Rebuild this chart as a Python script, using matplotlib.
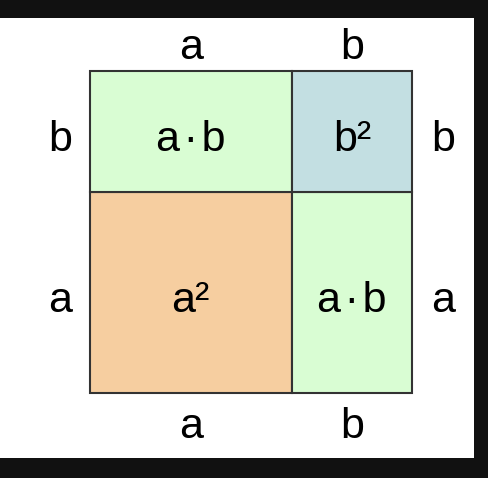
import matplotlib
matplotlib.use("Agg")
import matplotlib.pyplot as plt
from matplotlib.patches import Rectangle

# lados del cuadrado (a+b)^2
a = 5
b = 3

# celdas: x, y, ancho, alto, texto, color
celdas_x = [0, a, 0, a]
celdas_y = [0, 0, a, a]
celdas_w = [a, b, a, b]
celdas_h = [a, a, b, b]
celdas_txt = ["a²", "a\u200a·\u200ab", "a\u200a·\u200ab", "b²"]
celdas_col = ["#f6cea0", "#d9fdd3", "#d9fdd3", "#c3dfe2"]

# etiquetas de los lados
lados_h = ["a", "b"]
lados_v = ["a", "b"]

plt.rcParams["font.family"] = ["Liberation Sans", "DejaVu Sans"]

fig = plt.figure(figsize=(4.88, 4.78), dpi=100)
fig.patch.set_facecolor("#111111")
# zona blanca
fig.patches.append(Rectangle((0, 20 / 478), 474 / 488, 440 / 478,
                             transform=fig.transFigure, facecolor="white",
                             edgecolor="none", zorder=-10))

ax = fig.add_axes([0, 0, 1, 1])
ax.set_facecolor("none")
s = 40.3
ax.set_xlim(-90 / s, (488 - 90) / s)
ax.set_ylim(-(478 - 393) / s, 393 / s)
ax.axis("off")

for x, y, w, h, t, c in zip(celdas_x, celdas_y, celdas_w, celdas_h, celdas_txt, celdas_col):
    ax.add_patch(Rectangle((x, y), w, h, facecolor=c, edgecolor="#333333", lw=1.5))
    ax.text(x + w / 2, y + h / 2 - 0.5, t, ha="center", va="baseline", fontsize=31)

total = a + b
pos = [a / 2, a + b / 2]
for p, t in zip(pos, lados_h):
    ax.text(p, total + 0.28, t, ha="center", va="baseline", fontsize=31)
    ax.text(p, -1.12, t, ha="center", va="baseline", fontsize=31)
for p, t in zip(pos, lados_v):
    ax.text(-0.75, p - 0.5, t, ha="center", va="baseline", fontsize=31)
    ax.text(total + 0.76, p - 0.5, t, ha="center", va="baseline", fontsize=31)

fig.savefig("out.png", dpi=100, facecolor=fig.get_facecolor())
